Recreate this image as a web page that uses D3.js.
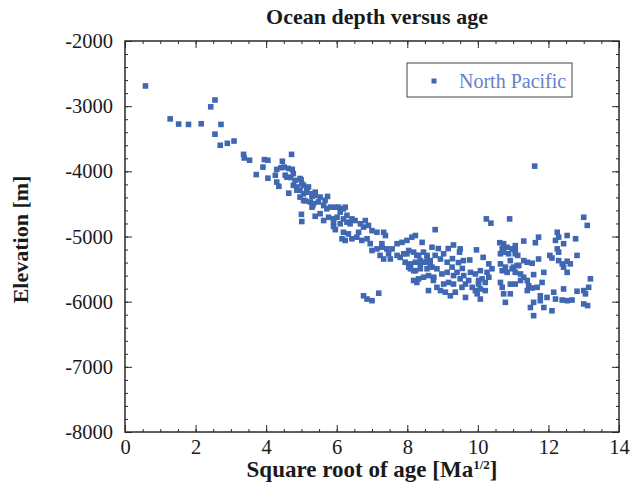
<!DOCTYPE html>
<html>
<head>
<meta charset="utf-8">
<script src="https://cdn.jsdelivr.net/npm/d3@7/dist/d3.min.js"></script>
<style>
  html, body { margin: 0; padding: 0; background: #fff; }
  svg { display: block; }
  text { font-family: "Liberation Serif", "Times New Roman", serif; }
</style>
</head>
<body>
<svg id="chart" width="638" height="486"></svg>
<script>
const chartTitle = "Ocean depth versus age";
const yAxisTitle = "Elevation [m]";
const seriesName = "North Pacific";
const xTicks = [0, 2, 4, 6, 8, 10, 12, 14];
const yTicks = [-8000, -7000, -6000, -5000, -4000, -3000, -2000];

// square root of age [Ma^1/2]
const sqrtAge = [
0.58,1.28,1.52,1.80,2.16,2.43,2.55,2.72,2.55,2.70,2.90,3.09,3.36,3.38,3.53,3.95,4.05,4.46,4.72,3.91,
3.72,4.05,4.26,4.30,4.42,4.51,4.74,4.30,4.36,4.59,4.70,4.77,4.99,4.64,4.87,5.06,5.15,4.96,5.11,5.30,
5.39,5.32,5.00,5.01,5.39,4.63,4.54,4.77,4.82,4.96,4.87,5.01,5.20,4.96,5.06,5.15,5.30,5.39,5.53,5.74,
5.06,5.25,5.34,5.48,5.63,5.67,5.30,5.53,5.72,5.82,5.63,5.77,5.91,6.05,6.19,6.10,6.01,6.19,6.29,5.91,
5.96,6.10,6.29,6.15,6.24,6.33,5.96,6.24,5.91,6.43,6.38,6.52,6.67,6.81,6.76,6.90,7.00,7.14,7.33,7.38,
6.19,6.43,6.57,6.71,6.86,6.62,6.95,7.00,7.14,7.28,7.42,7.57,7.28,7.47,7.23,7.33,7.52,7.71,7.85,7.99,
8.13,8.23,8.42,7.71,7.80,7.90,8.04,8.18,8.32,8.46,8.56,8.79,7.94,8.09,8.23,8.37,8.51,8.65,8.09,8.23,
8.37,8.56,8.70,8.18,8.32,8.46,8.60,8.75,8.60,8.84,6.76,6.86,7.00,7.19,10.24,10.37,10.90,9.31,9.50,9.48,
9.96,9.77,10.15,10.62,10.69,10.83,10.97,11.06,10.64,10.87,11.06,10.92,11.13,10.31,10.40,10.26,10.07,10.64,10.78,10.69,
10.83,10.97,11.11,10.12,10.21,10.31,10.02,9.93,10.07,10.21,10.64,10.69,10.92,10.73,10.92,10.07,10.78,9.65,9.36,9.22,
9.08,13.00,13.10,11.30,11.63,11.72,12.25,12.29,12.20,12.43,12.53,12.77,12.25,12.29,12.04,12.10,12.81,11.72,12.29,12.39,
12.53,12.62,12.43,12.53,11.87,11.58,11.82,13.19,13.14,12.43,12.15,12.81,13.00,13.05,11.68,11.54,11.40,11.77,11.96,12.20,
12.39,12.53,12.67,11.77,11.58,11.49,11.87,12.10,11.58,13.00,13.11,11.06,11.21,11.21,11.30,11.40,11.44,11.06,11.01,11.16,
11.30,11.40,11.54,11.06,10.73,10.73,11.61,7.99,8.27,8.37,8.56,8.65,8.79,8.94,9.03,9.13,8.84,8.98,9.13,9.27,
9.31,9.41,9.50,9.60,9.65,9.74,9.55,9.31,9.17,9.03,8.18,8.04,9.84,9.98,9.93,9.79,10.02,8.27,8.70,8.88,
9.16,9.28,9.45,9.56,8.74,8.94,9.59
];

// elevation [m]
const elevation = [
-2690,-3195,-3275,-3280,-3270,-3010,-2905,-3280,-3430,-3600,-3570,-3535,-3740,-3795,-3830,-3820,-3830,-3845,-3740,-3935,
-4050,-4105,-4060,-3970,-3945,-3935,-3970,-4165,-4230,-4090,-4095,-4215,-4130,-4335,-4290,-4215,-4265,-4395,-4455,-4385,
-4320,-4525,-4660,-4770,-4690,-3955,-4060,-4035,-4140,-4110,-4240,-4190,-4240,-4290,-4345,-4320,-4345,-4370,-4395,-4385,
-4445,-4470,-4495,-4470,-4525,-4445,-4550,-4650,-4575,-4550,-4755,-4705,-4730,-4550,-4575,-4625,-4705,-4730,-4675,-4845,
-4895,-4805,-4780,-5035,-5060,-4960,-4550,-4550,-4780,-4730,-4805,-4755,-4805,-4755,-4855,-4830,-4910,-4935,-4935,-4985,
-4935,-5035,-5010,-5060,-5035,-4935,-5110,-5215,-5190,-5165,-5190,-5190,-5110,-5265,-5290,-5345,-5345,-5110,-5090,-5060,
-5010,-4985,-5090,-5290,-5320,-5265,-5215,-5240,-5290,-5240,-5290,-4895,-5395,-5420,-5395,-5420,-5395,-5370,-5495,-5525,
-5495,-5495,-5470,-5675,-5650,-5625,-5600,-5625,-5830,-5780,-5910,-5960,-5985,-5870,-4730,-4795,-4730,-5130,-5190,-5240,
-5205,-5360,-5320,-5095,-5190,-5165,-5190,-5140,-5265,-5265,-5265,-5370,-5290,-5420,-5495,-5550,-5525,-5420,-5470,-5525,
-5550,-5495,-5445,-5650,-5705,-5625,-5730,-5830,-5805,-5830,-5705,-5780,-5730,-5880,-5880,-5960,-6010,-5935,-5855,-5910,
-5855,-4705,-4830,-5070,-5095,-5010,-4935,-5010,-5060,-5110,-4985,-5035,-5190,-5240,-5290,-5330,-5290,-5345,-5370,-5420,
-5380,-5420,-5470,-5550,-5550,-5585,-5705,-5650,-5780,-5805,-5855,-5840,-5830,-5880,-5780,-5790,-5830,-5910,-5935,-5960,
-5975,-5985,-5975,-5985,-6010,-6090,-6090,-6140,-6215,-6035,-6060,-5730,-5675,-5575,-5625,-5675,-5755,-5550,-5470,-5445,
-5370,-5395,-5410,-5215,-5110,-5240,-3920,-5265,-5290,-5370,-5320,-5420,-5290,-5345,-5265,-5395,-5495,-5575,-5550,-5470,
-5600,-5550,-5650,-5600,-5730,-5675,-5780,-5730,-5705,-5730,-5525,-5470,-5780,-5880,-5575,-5550,-5675,-5705,-5165,-5185,
-5185,-5340,-5400,-5490,-5675,-5830,-5370
];

const points = sqrtAge.map((v, i) => ({ x: v, y: elevation[i] }));

const svg = d3.select("#chart");
const L = 125, R = 619, T = 41, B = 432;
const x = d3.scaleLinear().domain([0, 14]).range([L, R]);
const y = d3.scaleLinear().domain([-8000, -2000]).range([B, T]);

const markColor = "#3f67b2";
const axisColor = "#2a2a2a";

// points (drawn before the frame)
svg.append("g").selectAll("rect").data(points).join("rect")
  .attr("x", d => x(d.x) - 2.8)
  .attr("y", d => y(d.y) - 2.8)
  .attr("width", 5.6).attr("height", 5.6)
  .attr("fill", markColor);

// minor + major ticks on four sides
function styleAxis(g) {
  g.select(".domain").remove();
  g.selectAll("line").attr("stroke", axisColor).attr("stroke-width", 1);
  g.selectAll("text").attr("fill", "#1a1a1a").style("font-size", "20.5px")
   .style("font-family", "'Liberation Serif', serif");
}
const xMinor = d3.range(0, 14.001, 0.5);
const yMinor = d3.range(-8000, -1999, 200);

svg.append("g").attr("transform", `translate(0,${B})`)
  .call(d3.axisBottom(x).tickValues(xMinor).tickSize(-3).tickFormat("")).call(styleAxis);
svg.append("g").attr("transform", `translate(0,${B})`)
  .call(d3.axisBottom(x).tickValues(xTicks).tickSize(-7).tickPadding(7).tickFormat(d3.format("d"))).call(styleAxis);
svg.append("g").attr("transform", `translate(0,${T})`)
  .call(d3.axisTop(x).tickValues(xMinor).tickSize(-3).tickFormat("")).call(styleAxis);
svg.append("g").attr("transform", `translate(0,${T})`)
  .call(d3.axisTop(x).tickValues(xTicks).tickSize(-7).tickFormat("")).call(styleAxis);

svg.append("g").attr("transform", `translate(${L},0)`)
  .call(d3.axisLeft(y).tickValues(yMinor).tickSize(-3).tickFormat("")).call(styleAxis);
svg.append("g").attr("transform", `translate(${L},0)`)
  .call(d3.axisLeft(y).tickValues(yTicks).tickSize(-7).tickPadding(12).tickFormat(d3.format("d"))).call(styleAxis);
svg.append("g").attr("transform", `translate(${R},0)`)
  .call(d3.axisRight(y).tickValues(yMinor).tickSize(-3).tickFormat("")).call(styleAxis);
svg.append("g").attr("transform", `translate(${R},0)`)
  .call(d3.axisRight(y).tickValues(yTicks).tickSize(-7).tickFormat("")).call(styleAxis);

// plain hyphen for negative labels
svg.selectAll(".tick text").text(function () { return this.textContent.replace("\u2212", "-"); });

// frame
svg.append("rect")
  .attr("x", L).attr("y", T).attr("width", R - L).attr("height", B - T)
  .attr("fill", "none").attr("stroke", axisColor).attr("stroke-width", 1.5);

// title
svg.append("text")
  .attr("x", 377).attr("y", 24)
  .attr("text-anchor", "middle")
  .style("font-size", "22px").style("font-weight", "bold").attr("fill", "#1a1a1a")
  .text(chartTitle);

// x axis title with superscript
const xt = svg.append("text")
  .attr("x", 372).attr("y", 477)
  .attr("text-anchor", "middle")
  .style("font-size", "23px").style("font-weight", "bold").attr("fill", "#1a1a1a");
xt.append("tspan").text("Square root of age [Ma");
xt.append("tspan").attr("dy", -8).style("font-size", "13px").text("1/2");
xt.append("tspan").attr("dy", 8).text("]");

// y axis title
svg.append("text")
  .attr("transform", `translate(28,${(T + B) / 2 + 3}) rotate(-90)`)
  .attr("text-anchor", "middle")
  .style("font-size", "22px").style("font-weight", "bold").attr("fill", "#1a1a1a")
  .text(yAxisTitle);

// legend
const lg = svg.append("g");
lg.append("rect").attr("x", 407).attr("y", 63).attr("width", 165).attr("height", 34)
  .attr("fill", "#fff").attr("stroke", "#444").attr("stroke-width", 1);
lg.append("rect").attr("x", 431.5).attr("y", 78.5).attr("width", 5).attr("height", 5).attr("fill", markColor);
lg.append("text").attr("x", 459).attr("y", 87.5)
  .style("font-size", "20px").attr("fill", "#6482cc").text(seriesName);
</script>
</body>
</html>
